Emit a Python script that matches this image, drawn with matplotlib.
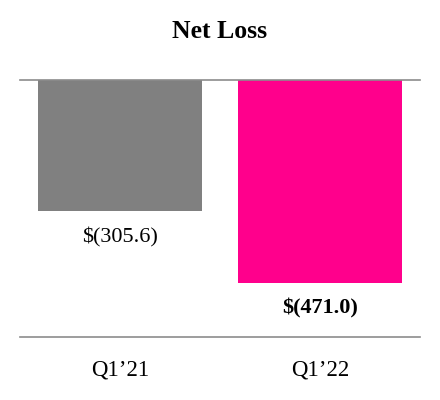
import matplotlib.pyplot as plt

# data
quarters = ["Q1\u201921", "Q1\u201922"]
net_loss = [-305.6, -471.0]
value_labels = ["$(305.6)", "$(471.0)"]
bar_colors = ["#808080", "#FF008C"]
label_weights = ["normal", "bold"]

plt.rcParams['font.family'] = ['Liberation Serif', 'DejaVu Serif']

fig = plt.figure(figsize=(4.4, 4.0), dpi=100)
ax = fig.add_axes([20 / 440, 63 / 400, 400 / 440, 257 / 400])

x = range(len(quarters))
bars = ax.bar(x, net_loss, width=0.82, color=bar_colors, zorder=1)

ax.set_xlim(-0.5, 1.5)
ax.set_ylim(-597.7, 0)

# value labels below each bar
for bar, lab, w in zip(bars, value_labels, label_weights):
    ax.annotate(lab, (bar.get_x() + bar.get_width() / 2, bar.get_height()),
                xytext=(0, -26), textcoords='offset pixels',
                ha='center', va='center', fontsize=16, fontweight=w)

for s in ['left', 'right']:
    ax.spines[s].set_visible(False)
for s in ['top', 'bottom']:
    ax.spines[s].set_color('#8c8c8c')
    ax.spines[s].set_linewidth(1.2)
ax.spines['top'].set_zorder(3)

ax.set_yticks([])
ax.set_xticks(list(x))
ax.set_xticklabels(quarters, fontsize=16.5)
ax.tick_params(axis='x', length=0, pad=16)

fig.text(0.5, 1 - 31 / 400, "Net Loss", ha='center', va='center',
         fontsize=18.5, fontweight='bold')

fig.savefig("out.png", dpi=100)
